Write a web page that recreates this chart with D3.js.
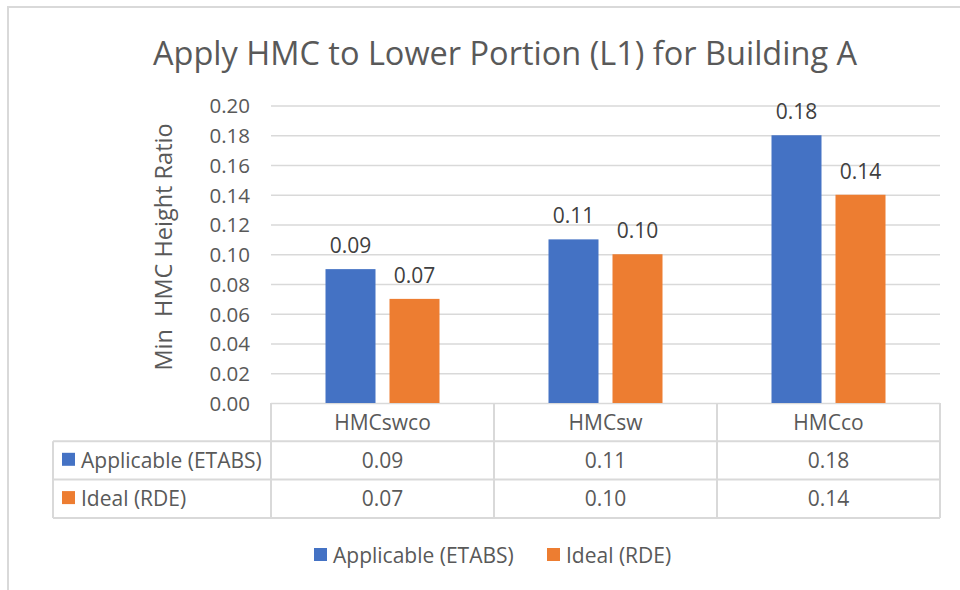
<!DOCTYPE html>
<html>
<head>
<meta charset="utf-8">
<script src="https://cdn.jsdelivr.net/npm/d3@7"></script>
<style>
  html, body { margin: 0; padding: 0; background: #fff; }
  svg { display: block; font-family: "Open Sans", "Noto Sans", sans-serif; }
  text { white-space: pre; }
</style>
</head>
<body>
<svg id="chart" width="960" height="590"></svg>
<script>
// Chart data
const categories = ["HMCswco", "HMCsw", "HMCco"];
const seriesNames = ["Applicable (ETABS)", "Ideal (RDE)"];
const applicable = [0.09, 0.11, 0.18];
const ideal = [0.07, 0.10, 0.14];
const yTicks = [0, 0.02, 0.04, 0.06, 0.08, 0.10, 0.12, 0.14, 0.16, 0.18, 0.20];
const colors = ["#4472c4", "#ed7d31"];

const seriesValues = [applicable, ideal];
const fmt = d3.format(".2f");

const svg = d3.select("#chart");
const gridColor = "#d9d9d9";
const textColor = "#595959";
const bodySize = 21;

// outer frame
svg.append("path")
  .attr("d", "M8,590V7H960")
  .attr("fill", "none")
  .attr("stroke", gridColor)
  .attr("stroke-width", 2);

// layout
const plot = { left: 271, right: 940, top: 105.5, bottom: 403 };
const tableLeft = 53;
const rowH = 38.3;

const x = d3.scaleBand().domain(categories).range([plot.left, plot.right]);
const xs = d3.scaleBand().domain(seriesNames).range([0, x.bandwidth()])
  .paddingInner(14 / 64).paddingOuter(0.8516);
const y = d3.scaleLinear().domain([0, 0.2]).range([plot.bottom, plot.top]);

// title
svg.append("text")
  .attr("x", 505).attr("y", 65)
  .attr("text-anchor", "middle")
  .attr("fill", textColor)
  .attr("font-size", 32.5)
  .text("Apply HMC to Lower Portion (L1) for Building A");

// y axis with gridlines
const yAxis = svg.append("g")
  .attr("transform", `translate(${plot.left},0)`)
  .call(d3.axisLeft(y).tickValues(yTicks).tickFormat(fmt)
    .tickSize(-(plot.right - plot.left)).tickPadding(21));
yAxis.select(".domain").remove();
yAxis.selectAll(".tick line").attr("stroke", gridColor).attr("stroke-width", 1.6);
yAxis.selectAll(".tick text")
  .attr("fill", textColor)
  .attr("font-size", 20.5)
  .attr("font-family", "'Open Sans', sans-serif")
  .attr("dy", "0.36em");

// y axis title
svg.append("text")
  .attr("transform", "translate(172,247) rotate(-90)")
  .attr("text-anchor", "middle")
  .attr("fill", textColor)
  .attr("font-size", 23.5)
  .text("Min  HMC Height Ratio");

// bars
const groups = svg.append("g").selectAll("g")
  .data(categories)
  .join("g")
  .attr("transform", d => `translate(${x(d)},0)`);

groups.selectAll("rect")
  .data((c, i) => seriesNames.map((s, k) => ({ s, k, v: seriesValues[k][i] })))
  .join("rect")
  .attr("x", d => xs(d.s))
  .attr("width", xs.bandwidth())
  .attr("y", d => y(d.v))
  .attr("height", d => y(0) - y(d.v))
  .attr("fill", d => colors[d.k]);

// value labels above bars
groups.selectAll("text.val")
  .data((c, i) => seriesNames.map((s, k) => ({ s, k, v: seriesValues[k][i] })))
  .join("text")
  .attr("class", "val")
  .attr("x", d => xs(d.s) + xs.bandwidth() / 2)
  .attr("y", d => y(d.v) - 16)
  .attr("text-anchor", "middle")
  .attr("fill", "#404040")
  .attr("font-size", bodySize)
  .text(d => fmt(d.v));

// data table
const table = svg.append("g");
const rowTop = [plot.bottom, plot.bottom + rowH, plot.bottom + 2 * rowH];
const tableBottom = plot.bottom + 3 * rowH;

// horizontal lines of the value rows
[rowTop[1], rowTop[2], tableBottom].forEach(yy => {
  table.append("line")
    .attr("x1", tableLeft).attr("x2", plot.right)
    .attr("y1", yy).attr("y2", yy)
    .attr("stroke", gridColor).attr("stroke-width", 2);
});
// vertical column dividers
const colEdges = categories.map(c => x(c)).concat([plot.right]);
colEdges.forEach(xx => {
  table.append("line")
    .attr("x1", xx).attr("x2", xx)
    .attr("y1", plot.bottom).attr("y2", tableBottom)
    .attr("stroke", gridColor).attr("stroke-width", 2);
});
table.append("line")
  .attr("x1", tableLeft).attr("x2", tableLeft)
  .attr("y1", rowTop[1]).attr("y2", tableBottom)
  .attr("stroke", gridColor).attr("stroke-width", 2);

// category header row
table.selectAll("text.cat")
  .data(categories)
  .join("text")
  .attr("class", "cat")
  .attr("x", d => x(d) + x.bandwidth() / 2)
  .attr("y", rowTop[0] + 27)
  .attr("text-anchor", "middle")
  .attr("fill", textColor)
  .attr("font-size", bodySize)
  .text(d => d);

// series rows
seriesNames.forEach((name, k) => {
  const base = rowTop[k + 1] + 26.5;
  table.append("rect")
    .attr("x", 62).attr("y", base - 15)
    .attr("width", 13).attr("height", 13)
    .attr("fill", colors[k]);
  table.append("text")
    .attr("x", 81).attr("y", base)
    .attr("fill", textColor)
    .attr("font-size", bodySize)
    .text(name);
  table.selectAll(null)
    .data(categories)
    .join("text")
    .attr("x", d => x(d) + x.bandwidth() / 2)
    .attr("y", base)
    .attr("text-anchor", "middle")
    .attr("fill", textColor)
    .attr("font-size", bodySize)
    .text((d, i) => fmt(seriesValues[k][i]));
});

// legend
const legendX = [314, 547];
const legend = svg.append("g");
seriesNames.forEach((name, k) => {
  legend.append("rect")
    .attr("x", legendX[k]).attr("y", 548)
    .attr("width", 13).attr("height", 13)
    .attr("fill", colors[k]);
  legend.append("text")
    .attr("x", legendX[k] + 19).attr("y", 563)
    .attr("fill", textColor)
    .attr("font-size", bodySize)
    .text(name);
});
</script>
</body>
</html>
